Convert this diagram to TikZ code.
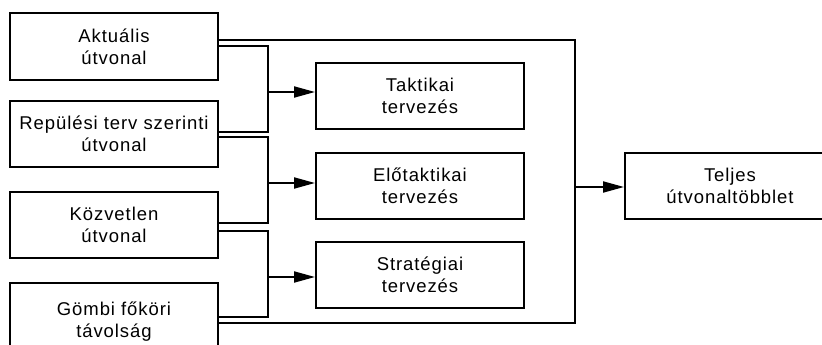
\documentclass[tikz,border=0pt]{standalone}
\usepackage{fontspec}
\setmainfont{Liberation Sans}[LetterSpace=5]
\usetikzlibrary{arrows.meta}
\begin{document}
\begin{tikzpicture}[x=1pt,y=-1pt,
  box/.style={draw,line width=2pt,rectangle,minimum width=208pt,inner sep=0pt,
    align=center,font=\fontsize{18.5}{21.6}\selectfont},
  wire/.style={line width=2pt},
  arr/.style={wire,-{Triangle[length=21pt,width=11pt]}}]
\useasboundingbox (0,0) rectangle (822,345);
% source boxes
\node[box,minimum height=67pt] (akt) at (114,46.5) {Aktuális\\útvonal};
\node[box,minimum height=66pt] (rep) at (114,134) {Repülési terv szerinti\\útvonal};
\node[box,minimum height=66pt] (kozv) at (114,225) {Közvetlen\\útvonal};
\node[box,minimum height=77pt] (gomb) at (114,321.5) {Gömbi főköri\\távolság};
% planning levels
\node[box,minimum height=66pt] (takt) at (420,96) {Taktikai\\tervezés};
\node[box,minimum height=66pt] (elo) at (420,186) {Előtaktikai\\tervezés};
\node[box,minimum height=66pt] (strat) at (420,275) {Stratégiai\\tervezés};
% result
\node[box,minimum width=210pt,minimum height=66pt] (telj) at (730,186) {Teljes\\útvonaltöbblet};
% junction points
\coordinate (j1) at (268,92);
\coordinate (j2) at (268,183);
\coordinate (j3) at (268,277);
\coordinate (bus) at (575,187);
% pairwise merges
\draw[wire] ([yshift=0pt]akt.east) -| (j1) |- ([yshift=2pt]rep.east);
\draw[wire] ([yshift=-3pt]rep.east) -| (j2) |- ([yshift=2pt]kozv.east);
\draw[wire] ([yshift=-6pt]kozv.east) -| (j3) |- ([yshift=4.5pt]gomb.east);
\draw[arr] (j1) -- (j1 -| takt.west);
\draw[arr] (j2) -- (j2 -| elo.west);
\draw[arr] (j3) -- (j3 -| strat.west);
% outer bus from first and last source
\draw[wire] ([yshift=6.5pt]akt.east) -| (bus) |- ([yshift=-1.5pt]gomb.east);
\draw[arr] (bus) -- (bus -| telj.west);
\end{tikzpicture}
\end{document}
